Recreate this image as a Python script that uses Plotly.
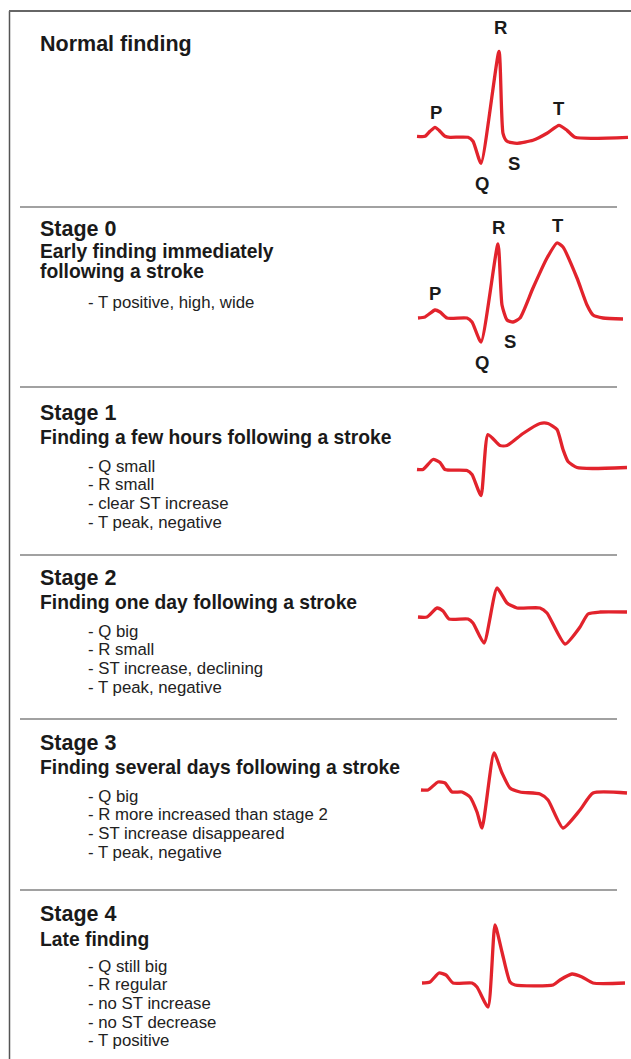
import plotly.graph_objects as go

W, H = 631, 1059

# ---------------- text content ----------------
titles = ["Normal finding", "Stage 0", "Stage 1", "Stage 2", "Stage 3", "Stage 4"]
subtitles = [
    [],
    ["Early finding immediately", "following a stroke"],
    ["Finding a few hours following a stroke"],
    ["Finding one day following a stroke"],
    ["Finding several days following a stroke"],
    ["Late finding"],
]
bullets = [
    [],
    ["- T positive, high, wide"],
    ["- Q small", "- R small", "- clear ST increase", "- T peak, negative"],
    ["- Q big", "- R small", "- ST increase, declining", "- T peak, negative"],
    ["- Q big", "- R more increased than stage 2", "- ST increase disappeared", "- T peak, negative"],
    ["- Q still big", "- R regular", "- no ST increase", "- no ST decrease", "- T positive"],
]

# ---------------- ECG waveforms (time, amplitude) ----------------
t_normal = [1, 9, 14, 19, 23, 29, 34, 52, 57, 65, 83, 87, 91, 101, 117, 131, 143, 151, 159, 212]
a_normal = [1, 1, 6, 10, 7, 1, 0, 0, -4, -26, 86, 4, -4, -6, -3, 4, 12, 7, 0, 0]

t_stage0 = [2, 9, 19, 24, 31, 51, 56, 65, 82, 86, 91, 97, 104, 117, 131, 141, 147, 161, 171, 177, 187, 207]
a_stage0 = [0, 1, 8, 6, 0, 0, -4, -24, 74, 13, -2, -4, 0, 30, 60, 75, 71, 40, 13, 3, 0, -1]

t_stage1 = [1, 7, 17, 24, 29, 51, 56, 65, 72, 84, 91, 107, 124, 132, 141, 147, 152, 161, 177, 211]
a_stage1 = [0, 0, 10, 7, 0, -1, -5, -26, 35, 24, 24, 36, 46, 46, 40, 20, 8, 2, 1, 2]

t_stage2 = [2, 11, 21, 27, 33, 52, 57, 68, 81, 91, 101, 124, 131, 149, 164, 172, 184, 211]
a_stage2 = [0, 0, 9, 6, -2, -2, -6, -26, 29, 14, 9, 9, 4, -27, -10, 3, 5, 5]

t_stage3 = [5, 12, 22, 29, 36, 46, 54, 61, 66, 78, 86, 94, 104, 124, 132, 147, 164, 177, 211]
a_stage3 = [0, 0, 8, 7, -2, -2, -7, -22, -38, 37, 17, 2, -2, -4, -10, -38, -20, -3, -3]

t_stage4 = [6, 14, 23, 30, 37, 56, 61, 72, 79, 86, 94, 99, 137, 144, 156, 166, 177, 209]
a_stage4 = [0, 1, 10, 8, 0, 0, -4, -24, 58, 31, 1, -2, -2, 3, 9, 6, 0, 0]

waves = [(t_normal, a_normal), (t_stage0, a_stage0), (t_stage1, a_stage1),
         (t_stage2, a_stage2), (t_stage3, a_stage3), (t_stage4, a_stage4)]

# wave labels: (letter, point index, xshift, yshift)
labels_normal = [("P", 3, 1, 15), ("R", 10, 1, 24), ("T", 16, 0, 17), ("Q", 9, 1, -20), ("S", 13, -3, -20)]
labels_stage0 = [("P", 2, 0, 17), ("R", 8, 0, 16), ("T", 15, 1, 17), ("Q", 7, 1, -20), ("S", 11, -3, -19)]

# ---------------- layout positions (pixels) ----------------
title_y = [44, 229, 413, 578, 743, 914]
sub_y = [None, 252, 437, 602, 767, 939]
sub_step = 19
bullet_y = [None, 302, 466, 631, 796, 966]
bullet_step = 18.7
sep_y = [207, 387, 555, 719, 890]
baseline_y = [137.3, 318, 469.5, 617, 790, 983]
wave_x0 = 416

RED = "#e2232c"
FONT = "Liberation Sans, Arial, Helvetica, sans-serif"

def px(x):
    return x / W

def py(y):
    return 1 - y / H

fig = go.Figure()
layout = dict(
    width=W, height=H,
    margin=dict(l=0, r=0, t=0, b=0),
    paper_bgcolor="white", plot_bgcolor="rgba(0,0,0,0)",
    showlegend=False, hovermode=False,
    font=dict(family=FONT),
)

annotations = []
for i, (tt, aa) in enumerate(waves):
    n = i + 1
    xa = "x" if n == 1 else f"x{n}"
    ya = "y" if n == 1 else f"y{n}"
    fig.add_trace(go.Scatter(
        x=tt, y=aa, mode="lines", xaxis=xa, yaxis=ya,
        line=dict(color=RED, width=3.3, shape="spline", smoothing=0.55),
        hoverinfo="skip",
    ))
    b = baseline_y[i]
    key_x = "xaxis" if n == 1 else f"xaxis{n}"
    key_y = "yaxis" if n == 1 else f"yaxis{n}"
    layout[key_x] = dict(domain=[px(wave_x0), 1], range=[0, W - wave_x0],
                         visible=False, fixedrange=True, anchor=ya)
    layout[key_y] = dict(domain=[py(b + 60), py(b - 120)], range=[-60, 120],
                         visible=False, fixedrange=True, anchor=xa)

for idx, labels in ((0, labels_normal), (1, labels_stage0)):
    tt, aa = waves[idx]
    n = idx + 1
    for letter, k, xs, ys in labels:
        annotations.append(dict(
            x=tt[k], y=aa[k], xref="x" if n == 1 else f"x{n}", yref="y" if n == 1 else f"y{n}",
            text=f"<b>{letter}</b>", showarrow=False, xshift=xs, yshift=ys,
            font=dict(size=18.5, color="#1a1a1a", family=FONT),
            xanchor="center", yanchor="middle",
        ))

for i in range(len(titles)):
    annotations.append(dict(
        x=px(38), y=py(title_y[i]), xref="paper", yref="paper",
        text=f"<b>{titles[i]}</b>", showarrow=False, xanchor="left", yanchor="middle",
        font=dict(size=21.5, color="#1a1a1a", family=FONT),
    ))
    for j, s in enumerate(subtitles[i]):
        annotations.append(dict(
            x=px(38), y=py(sub_y[i] + j * sub_step), xref="paper", yref="paper",
            text=f"<b>{s}</b>", showarrow=False, xanchor="left", yanchor="middle",
            font=dict(size=19.3, color="#1a1a1a", family=FONT),
        ))
    for j, s in enumerate(bullets[i]):
        annotations.append(dict(
            x=px(86), y=py(bullet_y[i] + j * bullet_step), xref="paper", yref="paper",
            text=s, showarrow=False, xanchor="left", yanchor="middle",
            font=dict(size=16.8, color="#222222", family=FONT),
        ))

shapes = [
    dict(type="line", xref="paper", yref="paper", x0=px(9.5), x1=px(9.5), y0=py(11), y1=0,
         line=dict(color="#555555", width=1.5)),
    dict(type="line", xref="paper", yref="paper", x0=px(9), x1=1, y0=py(11), y1=py(11),
         line=dict(color="#666666", width=2)),
]
for y in sep_y:
    shapes.append(dict(type="line", xref="paper", yref="paper", x0=px(20), x1=px(617),
                       y0=py(y), y1=py(y), line=dict(color="#444444", width=1.2)))

layout["annotations"] = annotations
layout["shapes"] = shapes
fig.update_layout(**layout)
fig.write_html(
    "out.html",
    config={"displayModeBar": False, "staticPlot": True},
    post_script="document.body.style.margin='0';document.body.style.overflow='hidden';",
)
